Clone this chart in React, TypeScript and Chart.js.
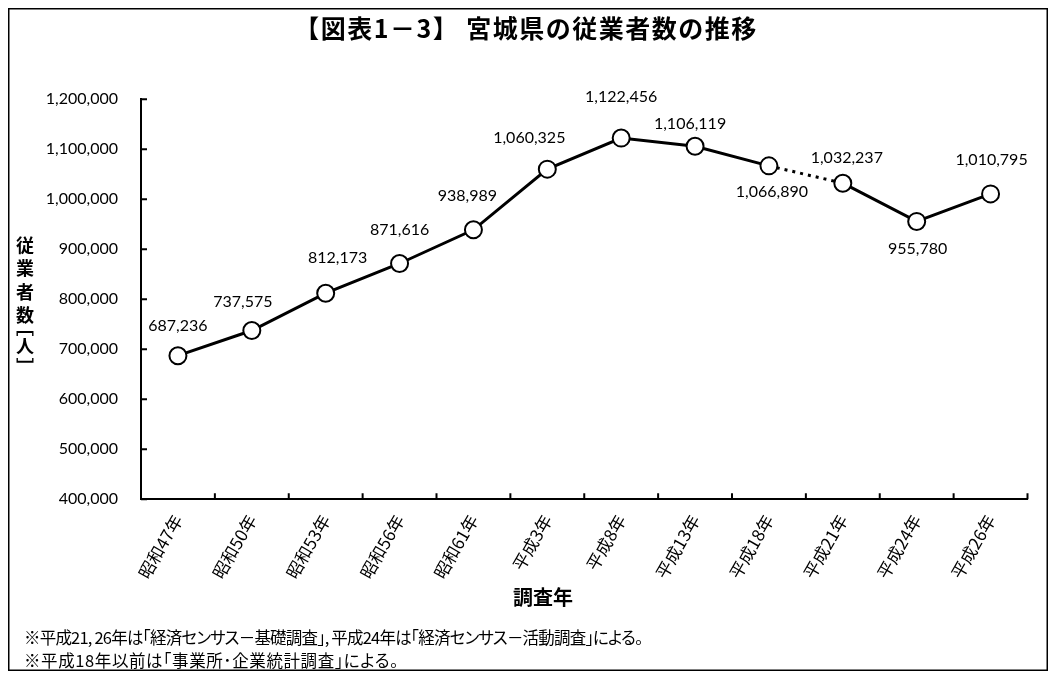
import React, { useEffect, useRef } from 'react';
import { Chart, registerables } from 'chart.js';

Chart.register(...registerables);

const chartTitle = '【図表1－3】 宮城県の従業者数の推移';
const categories = ['昭和47年', '昭和50年', '昭和53年', '昭和56年', '昭和61年', '平成3年', '平成8年', '平成13年', '平成18年', '平成21年', '平成24年', '平成26年'];
const employees = [687236, 737575, 812173, 871616, 938989, 1060325, 1122456, 1106119, 1066890, 1032237, 955780, 1010795];
const dottedSegmentStart = 8; // 平成18年 → 平成21年 (survey change)
const yMin = 400000;
const yMax = 1200000;
const yStep = 100000;
const yTitleChars = ['従', '業', '者', '数', '﹇', '人', '﹈'];
const xTitle = '調査年';
const notes = [
  '※平成21, 26年は｢経済センサス－基礎調査｣, 平成24年は｢経済センサス－活動調査｣による。',
  '※平成18年以前は｢事業所･企業統計調査｣による。',
];
const noteLetterSpacing = [-0.8, 0.6];

// label layout (offset of each value label from its point, px)
const labelNudge: [number, number][] = [
  [0, -30], [-9, -29], [12, -35], [0, -34], [-6, -34], [-18, -31],
  [0, -41], [-5, -22], [3, 26], [4, -25], [1, 27], [1, -34],
];

const CJK = '"Noto Sans CJK JP", "Noto Sans", sans-serif';
const NUM = 'Lato, "Open Sans", sans-serif';
const W = 1040;
const H = 663;

const fmt = (v: number) => v.toLocaleString('en-US');

const decorPlugin = {
  id: 'decor',
  afterDraw(chart: any) {
    const ctx = chart.ctx as CanvasRenderingContext2D;
    const { left, bottom } = chart.chartArea;
    const xs = chart.scales.x;
    const ys = chart.scales.y;
    ctx.save();

    // frame
    ctx.strokeStyle = '#000';
    ctx.lineWidth = 1.5;
    ctx.strokeRect(0.75, 0.75, W - 1.5, H - 1.5);

    // inward tick marks
    ctx.lineWidth = 2;
    ctx.beginPath();
    ys.ticks.forEach((t: any) => {
      const y = ys.getPixelForValue(t.value);
      ctx.moveTo(left, y);
      ctx.lineTo(left + 6, y);
    });
    const n = categories.length;
    const half = (xs.getPixelForValue(1) - xs.getPixelForValue(0)) / 2;
    for (let i = 0; i <= n; i++) {
      const x = i < n ? xs.getPixelForValue(i) - half : xs.getPixelForValue(n - 1) + half;
      ctx.moveTo(x, bottom);
      ctx.lineTo(x, bottom - 6);
    }
    ctx.stroke();

    // title
    ctx.fillStyle = '#000';
    ctx.textAlign = 'center';
    ctx.textBaseline = 'middle';
    ctx.font = `bold 25px ${CJK}`;
    (ctx as any).letterSpacing = '1.5px';
    ctx.fillText(chartTitle, 518, 20);
    (ctx as any).letterSpacing = '0px';

    // y axis title (stacked vertical)
    ctx.font = `bold 18px ${CJK}`;
    const yPos = [237, 260.5, 284, 307.5, 319, 338.5, 359];
    yTitleChars.forEach((c, i) => ctx.fillText(c, 17, yPos[i]));

    // x axis title
    ctx.font = `bold 20px ${CJK}`;
    ctx.fillText(xTitle, 535, 589);

    // data labels
    const meta = chart.getDatasetMeta(0);
    ctx.font = `16px ${NUM}`;
    ctx.textAlign = 'center';
    meta.data.forEach((pt: any, i: number) => {
      const [dx, dy] = labelNudge[i];
      ctx.fillText(fmt(employees[i]), pt.x + dx, pt.y + dy);
    });

    ctx.restore();
  },
};

export default function App() {
  const ref = useRef<HTMLCanvasElement>(null);
  useEffect(() => {
    if (!ref.current) return;
    const chart = new Chart(ref.current, {
      type: 'line',
      data: {
        labels: categories,
        datasets: [
          {
            data: employees,
            borderColor: '#000',
            borderWidth: 3,
            pointRadius: 8.5,
            pointBorderWidth: 2,
            pointBackgroundColor: '#fff',
            pointBorderColor: '#000',
            tension: 0,
            segment: {
              borderDash: (c: any) => (c.p0DataIndex === dottedSegmentStart ? [3, 5] : undefined),
            },
          },
        ],
      },
      options: {
        responsive: false,
        animation: false,
        events: [],
        layout: { padding: { top: 91.3, right: 20.5, left: 0, bottom: 0 } },
        plugins: { legend: { display: false }, title: { display: false }, tooltip: { enabled: false } },
        scales: {
          x: {
            type: 'category',
            offset: true,
            grid: { display: false, drawTicks: false, offset: true },
            border: { display: true, color: '#000', width: 2 },
            ticks: {
              font: { family: CJK, size: 17 },
              color: '#000',
              minRotation: 60,
              maxRotation: 60,
              autoSkip: false,
              padding: 12,
            },
            afterFit: (s: any) => {
              s.height = H - 491.3;
            },
          },
          y: {
            min: yMin,
            max: yMax,
            grid: { display: false, drawTicks: false },
            border: { display: true, color: '#000', width: 2 },
            ticks: {
              stepSize: yStep,
              font: { family: NUM, size: 16 },
              color: '#000',
              padding: 23,
              callback: (v: any) => fmt(Number(v)),
            },
            afterFit: (s: any) => {
              s.width = 133;
            },
          },
        },
      },
      plugins: [decorPlugin],
    });
    return () => chart.destroy();
  }, []);
  return (
    <div style={{ position: 'relative', width: W, height: H }}>
      <canvas ref={ref} width={W} height={H} style={{ display: 'block' }} />
      <div
        style={{
          position: 'absolute',
          left: 16,
          top: 617.5,
          fontFamily: CJK,
          fontSize: 16.5,
          lineHeight: '23px',
          color: '#000',
          fontFeatureSettings: '"palt" 1',
          whiteSpace: 'nowrap',
        }}
      >
        {notes.map((t, i) => (
          <div key={t} style={{ letterSpacing: `${noteLetterSpacing[i]}px` }}>
            {t}
          </div>
        ))}
      </div>
    </div>
  );
}
